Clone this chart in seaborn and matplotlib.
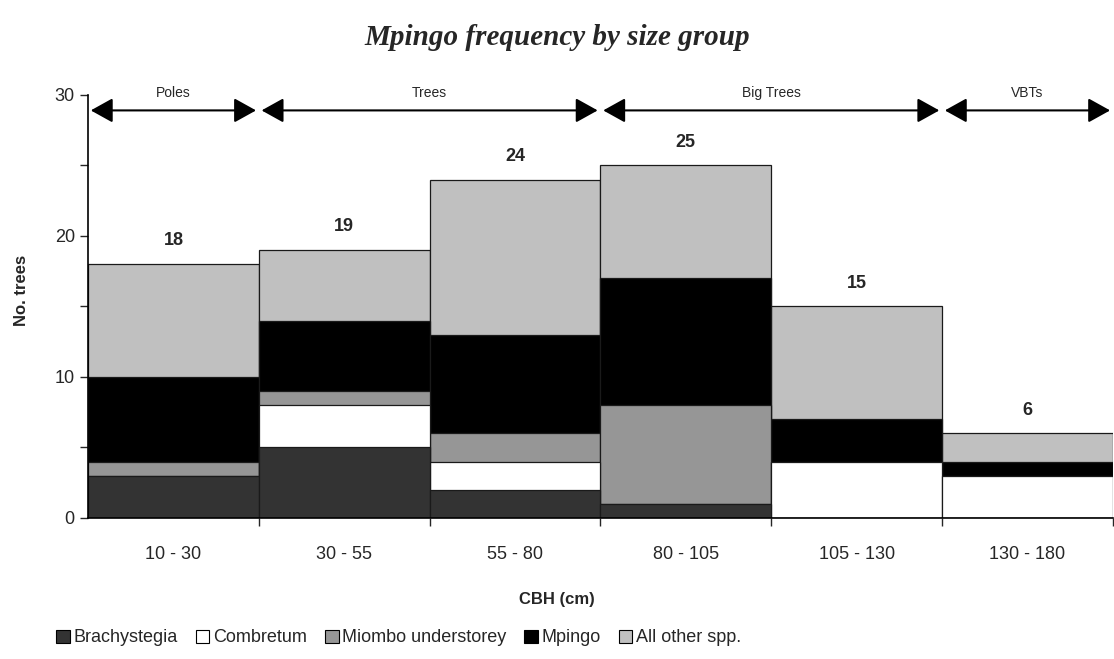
import pandas as pd
import numpy as np
from matplotlib import pyplot as plt
from matplotlib.patches import Patch
import seaborn as sns

size_groups = ['10 - 30', '30 - 55', '55 - 80', '80 - 105', '105 - 130', '130 - 180']
species = ['Brachystegia', 'Combretum', 'Miombo understorey', 'Mpingo', 'All other spp.']
brachystegia = [3, 5, 2, 1, 0, 0]
combretum = [0, 3, 2, 0, 4, 3]
miombo = [1, 1, 2, 7, 0, 0]
mpingo = [6, 5, 7, 9, 3, 1]
other = [8, 5, 11, 8, 8, 2]
colours = ['#333333', '#ffffff', '#969696', '#000000', '#c0c0c0']

classes = ['Poles', 'Trees', 'Big Trees', 'VBTs']
class_bounds = [(-0.5, 0.5), (0.5, 2.5), (2.5, 4.5), (4.5, 5.5)]

sns.set_style('ticks')
plt.rcParams['font.family'] = ['Liberation Sans', 'DejaVu Sans']

counts = np.array([brachystegia, combretum, miombo, mpingo, other])
cum = counts.cumsum(axis=0)
df = pd.DataFrame(cum.T, columns=species)
df['size'] = size_groups
long = df.melt(id_vars='size', var_name='species', value_name='cum')

fig = plt.figure(figsize=(11.14, 6.59), dpi=100)
ax = fig.add_axes([0.079, 0.214, 0.92, 0.642])

# draw cumulative stacks from top down so lower layers cover upper
for sp, col in reversed(list(zip(species, colours))):
    sub = long[long.species == sp]
    sns.barplot(data=sub, x='size', y='cum', order=size_groups, color=col,
                width=1, edgecolor='#1a1a1a', linewidth=0.9, saturation=1, ax=ax)

totals = cum[-1]
for i, t in enumerate(totals):
    ax.text(i, t + 1.65, str(t), ha='center', va='center', fontsize=13, fontweight='bold')

ax.set_xlim(-0.5, 5.5)
ax.set_ylim(0, 30)
ax.set_yticks([0, 10, 20, 30])
ax.set_yticks([5, 15, 25], minor=True)
ax.set_xticks(np.arange(0.5, 5.6, 1), minor=True)
ax.tick_params(axis='x', which='major', length=0, pad=20, labelsize=13)
ax.tick_params(axis='x', which='minor', length=6, width=1)
ax.tick_params(axis='y', which='both', length=6, width=1, labelsize=13, direction='out')
sns.despine(ax=ax)
for s in ['left', 'bottom']:
    ax.spines[s].set_color('black')
    ax.spines[s].set_linewidth(1.2)

ax.set_xlabel('CBH (cm)', fontsize=12, fontweight='bold')
ax.set_ylabel('No. trees', fontsize=12, fontweight='bold')
ax.xaxis.set_label_coords(0.457, -0.175)
ax.yaxis.set_label_coords(-0.058, 0.537)

for name, (x0, x1) in zip(classes, class_bounds):
    ax.annotate('', xy=(x1, 28.9), xytext=(x0, 28.9), annotation_clip=False,
                arrowprops=dict(arrowstyle='<|-|>,head_length=0.9,head_width=0.5',
                                color='black', lw=1.5, shrinkA=2, shrinkB=2,
                                mutation_scale=15))
    ax.text((x0 + x1) / 2, 30.1, name, ha='center', va='center', fontsize=10, clip_on=False)

fig.text(0.5, 0.943, 'Mpingo frequency by size group', ha='center', va='center',
         fontsize=21, fontweight='bold', fontstyle='italic', family='Liberation Serif')

handles = [Patch(facecolor=c, edgecolor='black', linewidth=0.8) for c in colours]
fig.legend(handles, species, loc='center', bbox_to_anchor=(0.358, 0.032), ncol=5,
           frameon=False, fontsize=13, handlelength=0.75, handleheight=0.75,
           handletextpad=0.2, columnspacing=1.0)

fig.savefig('out.png', dpi=100)
